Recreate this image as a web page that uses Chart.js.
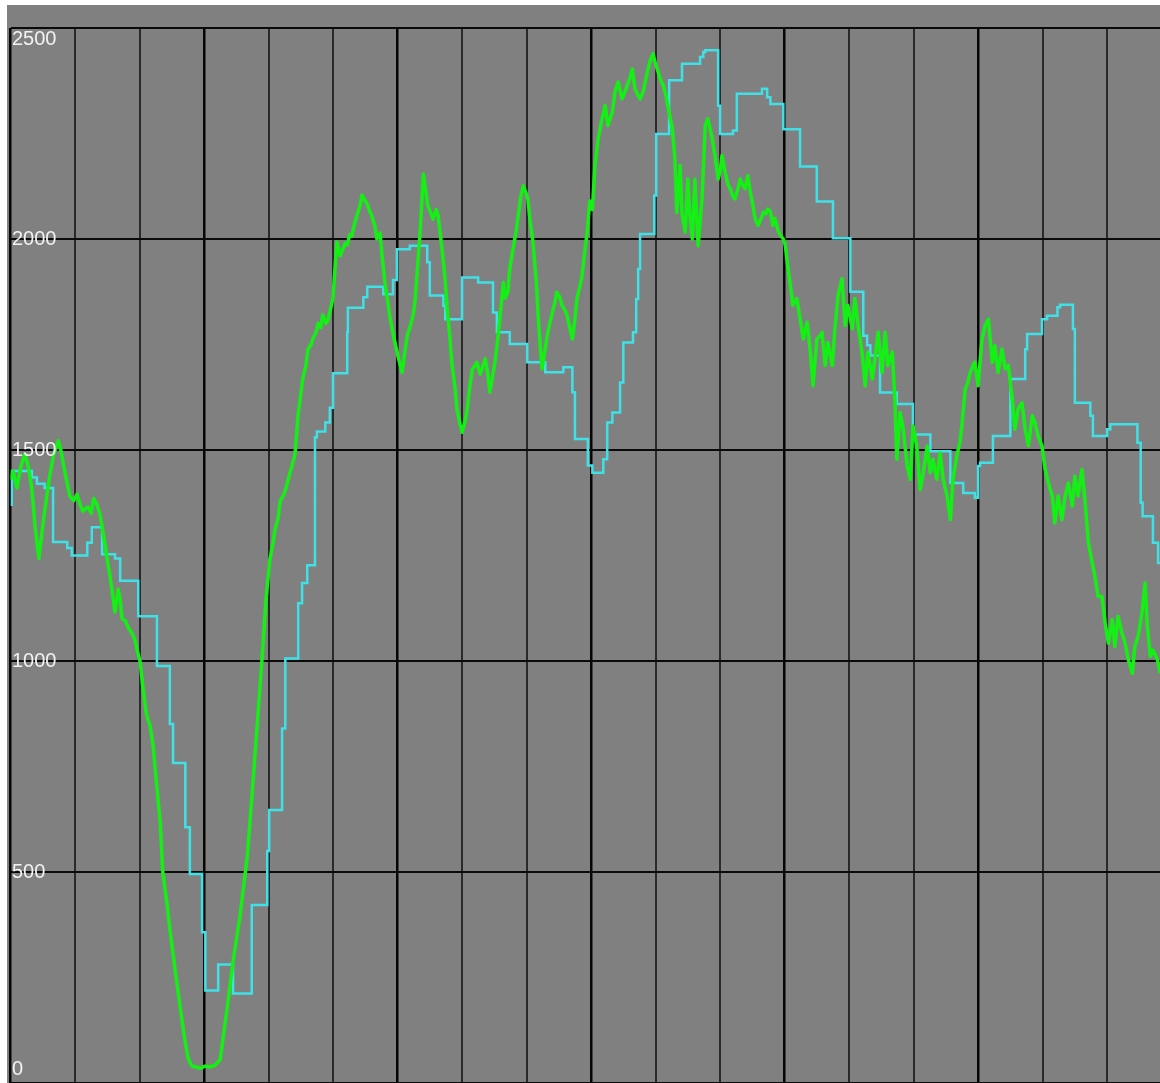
<!DOCTYPE html>
<html>
<head>
<meta charset="utf-8">
<script src="https://cdn.jsdelivr.net/npm/chart.js@4.4.1/dist/chart.umd.min.js"></script>
<style>
  html, body { margin: 0; padding: 0; background: #ffffff; }
  #wrap { position: absolute; left: 0; top: 0; width: 1160px; height: 1083px; }
  canvas { display: block; }
</style>
</head>
<body>
<div id="wrap"><canvas id="trend" width="1160" height="1083"></canvas></div>
<script>
// Time axis in grid divisions, value axis 0..2500
const yTicks = [0, 500, 1000, 1500, 2000, 2500];
const xMax = 17.82;

// Measured signal (green)
const greenT = [
  0, 0.04, 0.10, 0.16, 0.22, 0.27, 0.33, 0.38, 0.44, 0.50, 0.57, 0.61, 0.67, 0.74, 0.78, 0.84, 0.92, 0.98,
  1.03, 1.08, 1.12, 1.20, 1.25, 1.29, 1.34, 1.39, 1.47, 1.51, 1.54, 1.59, 1.62, 1.67, 1.70, 1.73, 1.78, 1.82, 1.88, 1.93, 1.96,
  2.01, 2.05, 2.10, 2.13, 2.16, 2.21, 2.27, 2.32, 2.36, 2.43, 2.47, 2.55, 2.63, 2.69, 2.75, 2.81, 2.88, 2.94,
  3.02, 3.09, 3.17, 3.25, 3.29, 3.37, 3.45, 3.56, 3.67, 3.74, 3.82, 3.90, 3.96,
  4.02, 4.07, 4.10, 4.15, 4.18, 4.24, 4.29, 4.33, 4.36, 4.41, 4.46, 4.49, 4.53, 4.58, 4.61, 4.66, 4.69, 4.74, 4.77, 4.81, 4.84, 4.89, 4.92, 4.97,
  5.00, 5.03, 5.06, 5.11, 5.14, 5.19, 5.22, 5.26, 5.29, 5.34, 5.37, 5.42, 5.45, 5.50, 5.53, 5.57, 5.60, 5.65, 5.68, 5.73, 5.76, 5.81, 5.85, 5.88, 5.96,
  6.01, 6.07, 6.12, 6.15, 6.19, 6.24, 6.27, 6.30, 6.35, 6.40, 6.44, 6.47, 6.52, 6.55, 6.60, 6.63, 6.69, 6.74, 6.77, 6.81, 6.84, 6.89, 6.92, 6.97,
  7.00, 7.05, 7.08, 7.12, 7.16, 7.20, 7.23, 7.28, 7.31, 7.36, 7.40, 7.43, 7.48, 7.51, 7.56, 7.59, 7.64, 7.67, 7.71, 7.74, 7.79, 7.84, 7.87, 7.91, 7.95, 7.99,
  8.02, 8.05, 8.10, 8.15, 8.18, 8.21, 8.24, 8.29, 8.32, 8.36, 8.40, 8.44, 8.47, 8.52, 8.55, 8.60, 8.63, 8.67, 8.71, 8.75, 8.78, 8.83, 8.86, 8.91, 8.94, 8.98,
  9.02, 9.06, 9.11, 9.17, 9.22, 9.26, 9.33, 9.37, 9.42, 9.48, 9.53, 9.56, 9.60, 9.64, 9.68, 9.73, 9.76, 9.81, 9.84, 9.88, 9.91, 9.96, 9.99,
  10.04, 10.07, 10.12, 10.16, 10.19, 10.26, 10.30, 10.33, 10.38, 10.41, 10.46, 10.50, 10.53, 10.57, 10.61, 10.66, 10.72, 10.77, 10.81, 10.88, 10.92, 10.97,
  11.00, 11.03, 11.08, 11.12, 11.16, 11.20, 11.23, 11.28, 11.31, 11.36, 11.39, 11.43, 11.47, 11.51, 11.54, 11.59, 11.64, 11.67, 11.71, 11.74, 11.78, 11.82, 11.85, 11.90, 11.93, 11.98,
  12.01, 12.04, 12.09, 12.13, 12.19, 12.24, 12.29, 12.35, 12.40, 12.44, 12.50, 12.55, 12.58, 12.63, 12.67, 12.74, 12.78, 12.83, 12.89, 12.94, 12.98,
  13.05, 13.09, 13.14, 13.20, 13.25, 13.29, 13.36, 13.40, 13.45, 13.51, 13.56, 13.60, 13.67, 13.71, 13.74, 13.79, 13.84, 13.90, 13.95, 13.99,
  14.05, 14.10, 14.15, 14.21, 14.26, 14.30, 14.36, 14.41, 14.46, 14.52, 14.57, 14.61, 14.67, 14.72, 14.75, 14.80, 14.84, 14.88, 14.92, 14.95,
  15.00, 15.06, 15.11, 15.16, 15.22, 15.26, 15.31, 15.37, 15.42, 15.47, 15.53, 15.57, 15.62, 15.68, 15.73, 15.78, 15.84, 15.88, 15.93, 15.99,
  16.04, 16.09, 16.15, 16.19, 16.24, 16.30, 16.35, 16.40, 16.46, 16.50, 16.55, 16.61, 16.66, 16.71, 16.77, 16.81, 16.86, 16.92, 16.97,
  17.02, 17.08, 17.12, 17.17, 17.23, 17.28, 17.33, 17.39, 17.43, 17.48, 17.54, 17.59, 17.62, 17.67, 17.71, 17.78, 17.82
];
const greenV = [
  1430, 1450, 1410, 1460, 1490, 1465, 1410, 1320, 1243, 1320, 1400, 1440, 1490, 1522, 1500, 1450, 1390, 1380,
  1395, 1370, 1355, 1365, 1350, 1385, 1370, 1346, 1272, 1230, 1204, 1150, 1116, 1170, 1145, 1100, 1096, 1080, 1067, 1050, 1028,
  998, 940, 880, 861, 850, 800, 700, 620, 500, 420, 365, 270, 180, 115, 60, 40, 38, 35,
  40, 38, 42, 55, 100, 190, 288, 398, 536, 674, 840, 1006, 1144,
  1240, 1280, 1310, 1340, 1379, 1395, 1420, 1445, 1461, 1489, 1586, 1620, 1669, 1700, 1738, 1750, 1765, 1780, 1800, 1790, 1820, 1800, 1807, 1840,
  1862, 1930, 1993, 1960, 1972, 1990, 1986, 2010, 2007, 2040, 2055, 2080, 2104, 2090, 2083, 2065, 2055, 2030, 2000, 2014, 1960, 1890, 1850, 1815, 1755,
  1720, 1684, 1740, 1771, 1790, 1818, 1850, 1913, 2016, 2154, 2110, 2079, 2060, 2047, 2070, 2055, 1976, 1900, 1834, 1770, 1708, 1650, 1597, 1560,
  1542, 1570, 1597, 1650, 1692, 1700, 1708, 1680, 1692, 1716, 1680, 1637, 1680, 1708, 1770, 1818, 1897, 1860, 1874, 1930, 1976, 2020, 2055, 2100, 2126, 2110,
  2095, 2050, 1992, 1900, 1818, 1750, 1692, 1740, 1771, 1800, 1826, 1850, 1874, 1860, 1842, 1830, 1818, 1790, 1763, 1810, 1858, 1890, 1913, 1980, 2016, 2090,
  2070, 2174, 2237, 2285, 2316, 2269, 2300, 2348, 2372, 2332, 2350, 2364, 2380, 2403, 2356, 2340, 2332, 2350, 2372, 2400, 2419, 2439, 2420,
  2396, 2380, 2364, 2340, 2316, 2261, 2190, 2063, 2174, 2060, 2016, 2142, 2060, 2000, 2142, 1984, 2095, 2269, 2285, 2237, 2198, 2142,
  2160, 2198, 2158, 2130, 2119, 2100, 2095, 2120, 2142, 2125, 2119, 2150, 2110, 2079, 2050, 2032, 2050, 2063, 2060, 2071, 2065, 2032, 2049, 2020, 2010, 2000,
  1986, 1946, 1890, 1843, 1859, 1811, 1763, 1803, 1732, 1652, 1763, 1770, 1779, 1700, 1755, 1700, 1787, 1867, 1906, 1795, 1843,
  1787, 1859, 1795, 1732, 1652, 1732, 1668, 1716, 1779, 1684, 1779, 1700, 1732, 1620, 1478, 1589, 1549, 1462, 1430, 1557,
  1509, 1406, 1446, 1509, 1446, 1478, 1430, 1493, 1430, 1390, 1335, 1430, 1486, 1520, 1560, 1644, 1660, 1684, 1700, 1708,
  1652, 1763, 1795, 1810, 1708, 1747, 1684, 1739, 1692, 1700, 1620, 1549, 1597, 1612, 1549, 1510, 1581, 1565, 1533, 1510,
  1454, 1422, 1391, 1327, 1391, 1335, 1391, 1422, 1367, 1438, 1391, 1454, 1375, 1280, 1232, 1201, 1153, 1153, 1090,
  1042, 1098, 1034, 1106, 1066, 1042, 1003, 971, 1034, 1058, 1114, 1185, 1090, 1011, 1026, 1003, 971
];

// Setpoint (cyan), stepped: each entry is where the level changes and the new level
const cyanT = [
  0, 0.02, 0.33, 0.41, 0.53, 0.66, 0.88, 0.95, 1.19, 1.26, 1.42, 1.62, 1.70, 1.98,
  2.27, 2.47, 2.52, 2.71, 2.78, 2.97, 3.02, 3.22, 3.45, 3.74, 3.98, 4.01, 4.21, 4.26, 4.46, 4.52, 4.60, 4.72, 4.75, 4.88, 4.95,
  5.00, 5.22, 5.23, 5.47, 5.53, 5.78, 5.93, 5.99, 6.19, 6.46, 6.50, 6.71, 6.74, 7.00, 7.25, 7.48, 7.54, 7.74,
  8.01, 8.29, 8.57, 8.71, 8.75, 8.95, 9.02, 9.19, 9.25, 9.33, 9.45, 9.50, 9.65, 9.70, 9.73, 9.76, 9.98,
  10.01, 10.21, 10.41, 10.69, 10.74, 10.77, 10.97, 11.00, 11.20, 11.26, 11.65, 11.73, 11.78, 11.98,
  12.24, 12.50, 12.75, 13.02, 13.22, 13.28, 13.33, 13.48, 13.74, 13.99, 14.26, 14.57, 14.77, 14.95,
  15.00, 15.03, 15.23, 15.50, 15.73, 15.76, 15.99, 16.07, 16.23, 16.27, 16.47, 16.50, 16.74, 16.78,
  17.00, 17.05, 17.47, 17.52, 17.55, 17.71, 17.79, 17.82
];
const cyanV = [
  1370, 1450, 1435, 1420, 1410, 1282, 1268, 1250, 1280, 1317, 1253, 1243, 1190, 1106,
  988, 851, 758, 606, 495, 357, 219, 281, 212, 422, 550, 647, 840, 1006, 1137, 1185, 1227, 1530, 1544, 1565, 1600,
  1682, 1779, 1837, 1862, 1887, 1869, 1903, 1976, 1984, 1945, 1866, 1842, 1810, 1909, 1897, 1826, 1779, 1751,
  1708, 1684, 1696, 1637, 1526, 1463, 1446, 1478, 1565, 1589, 1660, 1755, 1779, 1858, 1929, 2012, 2103,
  2249, 2376, 2415, 2431, 2443, 2447, 2316, 2249, 2257, 2344, 2356, 2336, 2320, 2260,
  2172, 2089, 2002, 1875, 1771, 1748, 1724, 1636, 1609, 1537, 1497, 1422, 1398, 1387,
  1462, 1470, 1533, 1668, 1739, 1775, 1810, 1818, 1838, 1844, 1787, 1612, 1581, 1533,
  1549, 1561, 1517, 1375, 1343, 1280, 1232, 1232
];

const toPoints = (ts, vs) => ts.map((t, i) => ({ x: t, y: vs[i] }));

// Gray panel behind the plot
const panelPlugin = {
  id: 'panel',
  beforeDraw(chart) {
    const { ctx, width, height } = chart;
    ctx.save();
    ctx.fillStyle = '#ffffff';
    ctx.fillRect(0, 0, width, height);
    ctx.fillStyle = '#808080';
    ctx.fillRect(7, 5, width - 7, height - 5);
    ctx.restore();
  }
};

// Value labels drawn inside the plot along the left edge
const valueLabels = {
  id: 'valueLabels',
  afterDraw(chart) {
    const { ctx } = chart;
    const y = chart.scales.y;
    const size = 20;
    const capH = size * 0.72;
    ctx.save();
    ctx.font = size + 'px "Liberation Sans Narrow", "Liberation Sans", sans-serif';
    ctx.fillStyle = '#f2f2f2';
    ctx.textAlign = 'left';
    ctx.textBaseline = 'alphabetic';
    yTicks.forEach(v => {
      const py = y.getPixelForValue(v);
      let base;
      if (v === y.max) base = py + 3 + capH;
      else if (v === y.min) base = py - 8;
      else base = py + capH / 2 - 1;
      ctx.fillText(String(v), 12, base);
    });
    ctx.restore();
  }
};

new Chart(document.getElementById('trend'), {
  type: 'line',
  data: {
    datasets: [
      {
        label: 'Actual',
        data: toPoints(greenT, greenV),
        borderColor: '#14f014',
        borderWidth: 3.5,
        pointRadius: 0,
        tension: 0,
        borderJoinStyle: 'round'
      },
      {
        label: 'Setpoint',
        data: toPoints(cyanT, cyanV),
        borderColor: '#3fe0e6',
        borderWidth: 2.5,
        pointRadius: 0,
        stepped: true,
        tension: 0
      }
    ]
  },
  options: {
    responsive: false,
    animation: false,
    events: [],
    layout: { padding: { left: 10.5, top: 28, right: 0, bottom: 0 } },
    plugins: { legend: { display: false }, tooltip: { enabled: false }, title: { display: false } },
    scales: {
      x: {
        type: 'linear',
        min: 0,
        max: xMax,
        ticks: { display: false, stepSize: 1, includeBounds: false },
        border: { display: false },
        grid: {
          drawTicks: false,
          color: c => (c.tick && c.tick.value % 3 === 0) ? '#050505' : '#2a2a2a',
          lineWidth: c => (c.tick && c.tick.value % 3 === 0) ? 2.5 : 2
        }
      },
      y: {
        min: 0,
        max: 2500,
        ticks: { display: false, stepSize: 500 },
        border: { display: false },
        grid: { drawTicks: false, color: '#0a0a0a', lineWidth: 2 }
      }
    }
  },
  plugins: [panelPlugin, valueLabels]
});
</script>
</body>
</html>
